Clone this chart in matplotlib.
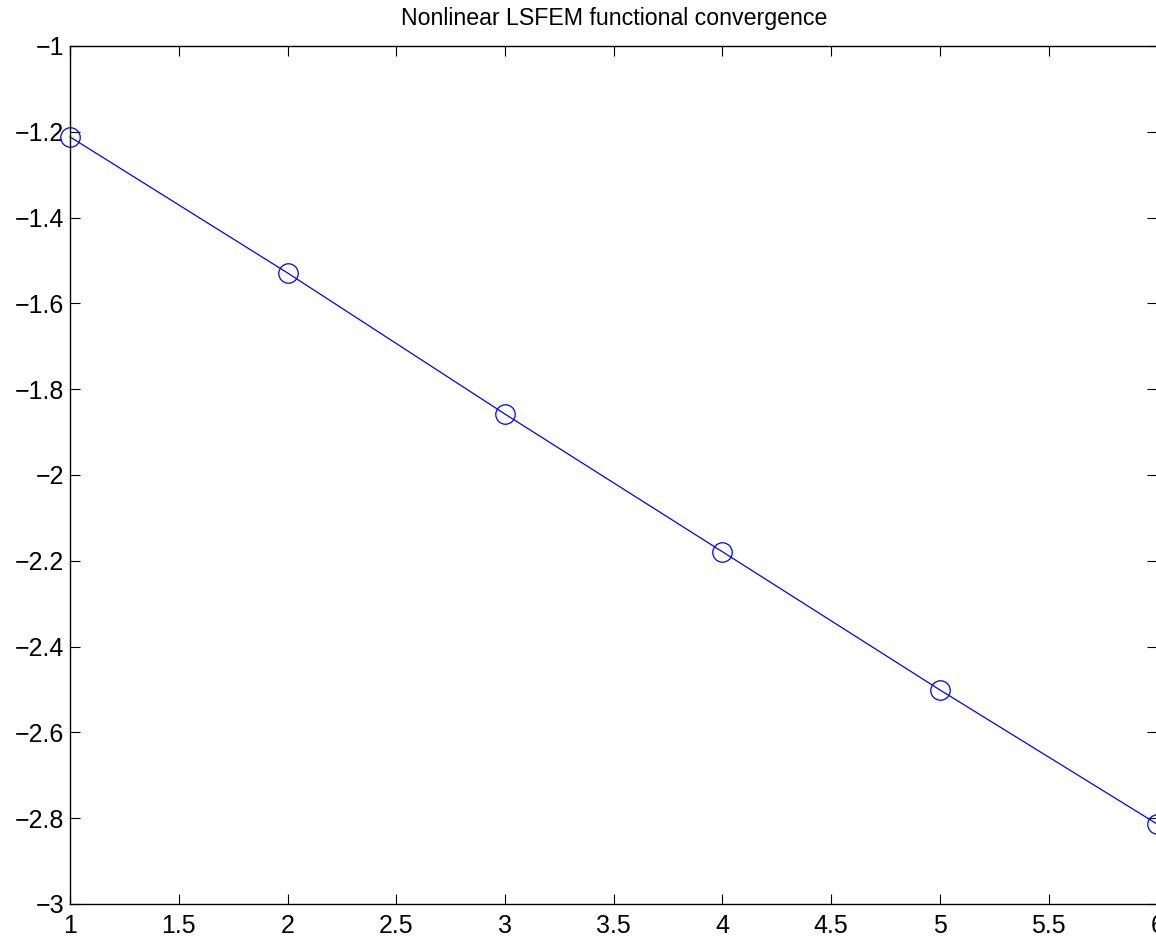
import numpy as np
import matplotlib.pyplot as plt

plt.rcParams['font.family'] = ['Liberation Sans', 'DejaVu Sans']

# refinement level vs. log10 of the least-squares functional
levels = [1, 2, 3, 4, 5, 6]
log_functional = [-1.212, -1.529, -1.858, -2.179, -2.501, -2.814]

fig = plt.figure(figsize=(11.56, 9.36), dpi=100)
ax = fig.add_axes([0.0606, 0.0342, 0.9406, 0.9167])

ax.plot(levels, log_functional, color='blue', linewidth=0.9,
        marker='o', markersize=14, markerfacecolor='none',
        markeredgecolor='blue', markeredgewidth=0.9, clip_on=False)

ax.set_xlim(1, 6)
ax.set_ylim(-3, -1)
ax.set_xticks(np.arange(1, 6.01, 0.5))
ax.set_xticklabels(['1', '1.5', '2', '2.5', '3', '3.5', '4', '4.5', '5', '5.5', '6'])
ax.set_yticks(np.arange(-3, -0.99, 0.2))
ax.set_yticklabels(['\u22123', '\u22122.8', '\u22122.6', '\u22122.4', '\u22122.2', '\u22122',
                    '\u22121.8', '\u22121.6', '\u22121.4', '\u22121.2', '\u22121'])
ax.tick_params(direction='in', length=7, width=0.8, top=True, right=True,
               labelsize=18)
ax.tick_params(axis='x', pad=7)
ax.tick_params(axis='y', pad=4)
for s in ax.spines.values():
    s.set_linewidth(1.0)

ax.set_title('Nonlinear LSFEM functional convergence', fontsize=16.7, pad=15)

fig.savefig('out.png', dpi=100)
